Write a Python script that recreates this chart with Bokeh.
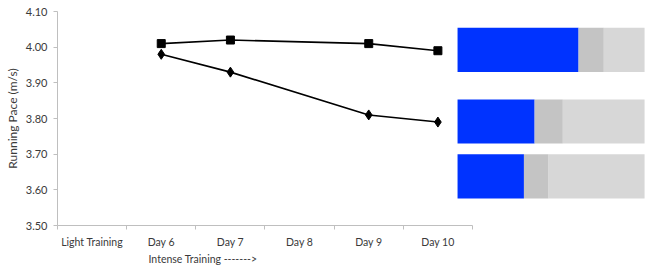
import numpy as np
from bokeh.plotting import figure
from bokeh.models import (Range1d, FixedTicker, NumeralTickFormatter, Title,
                          LinearAxis)
from bokeh.embed import file_html
from bokeh.resources import INLINE

# ---- data ----
categories = ["Light Training", "Day 6", "Day 7", "Day 8", "Day 9", "Day 10"]
pace_square = [None, 4.01, 4.02, None, 4.01, 3.99]
pace_diamond = [None, 3.98, 3.93, None, 3.81, 3.79]
y_ticks = [3.50, 3.60, 3.70, 3.80, 3.90, 4.00, 4.10]

bar_blue = [64.7, 41.2, 35.5]
bar_mid = [13.5, 15.1, 13.2]
bar_light = [21.8, 43.7, 51.3]

# ---- layout (positions / sizes) ----
bar_centers = [3.9925, 3.7916, 3.638]
bar_height = 0.124

FONT = "Lato"
TXT = "#3a3a3a"
AX = "#bfbfbf"

p = figure(width=653, height=272, output_backend="svg", toolbar_location=None,
           x_range=Range1d(0, 8.545), y_range=Range1d(3.5, 4.1),
           min_border_left=57, min_border_right=5, min_border_top=11,
           min_border_bottom=47, x_axis_type=None, y_axis_type=None)
p.outline_line_color = None
p.grid.visible = False
p.background_fill_color = "white"
p.border_fill_color = "white"

# extra range for stacked bars (percent scale)
p.extra_x_ranges = {"pct": Range1d(-213.9, 102.1)}

# x axis
xpos = np.arange(len(categories)) + 0.5
xaxis = LinearAxis(ticker=FixedTicker(ticks=list(xpos),
                                      minor_ticks=list(range(len(categories) + 1))))
xaxis.bounds = (0, len(categories))
xaxis.major_label_overrides = {float(x): c for x, c in zip(xpos, categories)}
xaxis.major_tick_line_color = None
xaxis.minor_tick_in = 0
xaxis.minor_tick_out = 4
xaxis.minor_tick_line_color = AX
xaxis.axis_line_color = AX
xaxis.major_label_text_font = FONT
xaxis.major_label_text_font_size = "10.5px"
xaxis.major_label_text_color = TXT
xaxis.major_label_standoff = 4
p.add_layout(xaxis, "below")

# caption under the x axis
p.add_layout(Title(text="Intense Training ------->", align="left", offset=91,
                   text_font=FONT, text_font_size="10.5px",
                   text_font_style="normal", text_color=TXT,
                   standoff=0), "below")

# y axis
yaxis = LinearAxis(ticker=FixedTicker(ticks=y_ticks, minor_ticks=[]),
                   formatter=NumeralTickFormatter(format="0.00"))
yaxis.axis_line_color = AX
yaxis.major_tick_line_color = AX
yaxis.major_tick_in = 0
yaxis.major_tick_out = 4
yaxis.major_label_text_font = FONT
yaxis.major_label_text_font_size = "11px"
yaxis.major_label_text_color = TXT
yaxis.major_label_standoff = 6
yaxis.axis_label = "Running Pace (m/s)"
yaxis.axis_label_text_font = FONT
yaxis.axis_label_text_font_size = "12px"
yaxis.axis_label_text_font_style = "normal"
yaxis.axis_label_text_color = TXT
yaxis.axis_label_standoff = 3
p.add_layout(yaxis, "left")

# lines
def pts(vals):
    xs = [x for x, v in zip(xpos, vals) if v is not None]
    ys = [v for v in vals if v is not None]
    return xs, ys

sx, sy = pts(pace_square)
p.line(sx, sy, line_color="black", line_width=1.6)
p.scatter(sx, sy, marker="square", size=8, fill_color="black", line_color="black")

dx, dy = pts(pace_diamond)
p.line(dx, dy, line_color="black", line_width=1.6)
p.scatter(dx, dy, marker="diamond", size=10, fill_color="black", line_color="black")

# stacked horizontal bars
b = np.array(bar_blue)
m = np.array(bar_mid)
l = np.array(bar_light)
p.hbar(y=bar_centers, left=0, right=b, height=bar_height, x_range_name="pct",
       fill_color="#0033ff", line_color=None)
p.hbar(y=bar_centers, left=b, right=b + m, height=bar_height, x_range_name="pct",
       fill_color="#c4c4c4", line_color=None)
p.hbar(y=bar_centers, left=b + m, right=b + m + l, height=bar_height,
       x_range_name="pct", fill_color="#d7d7d7", line_color=None)

open("out.html", "w").write(file_html(p, INLINE))
